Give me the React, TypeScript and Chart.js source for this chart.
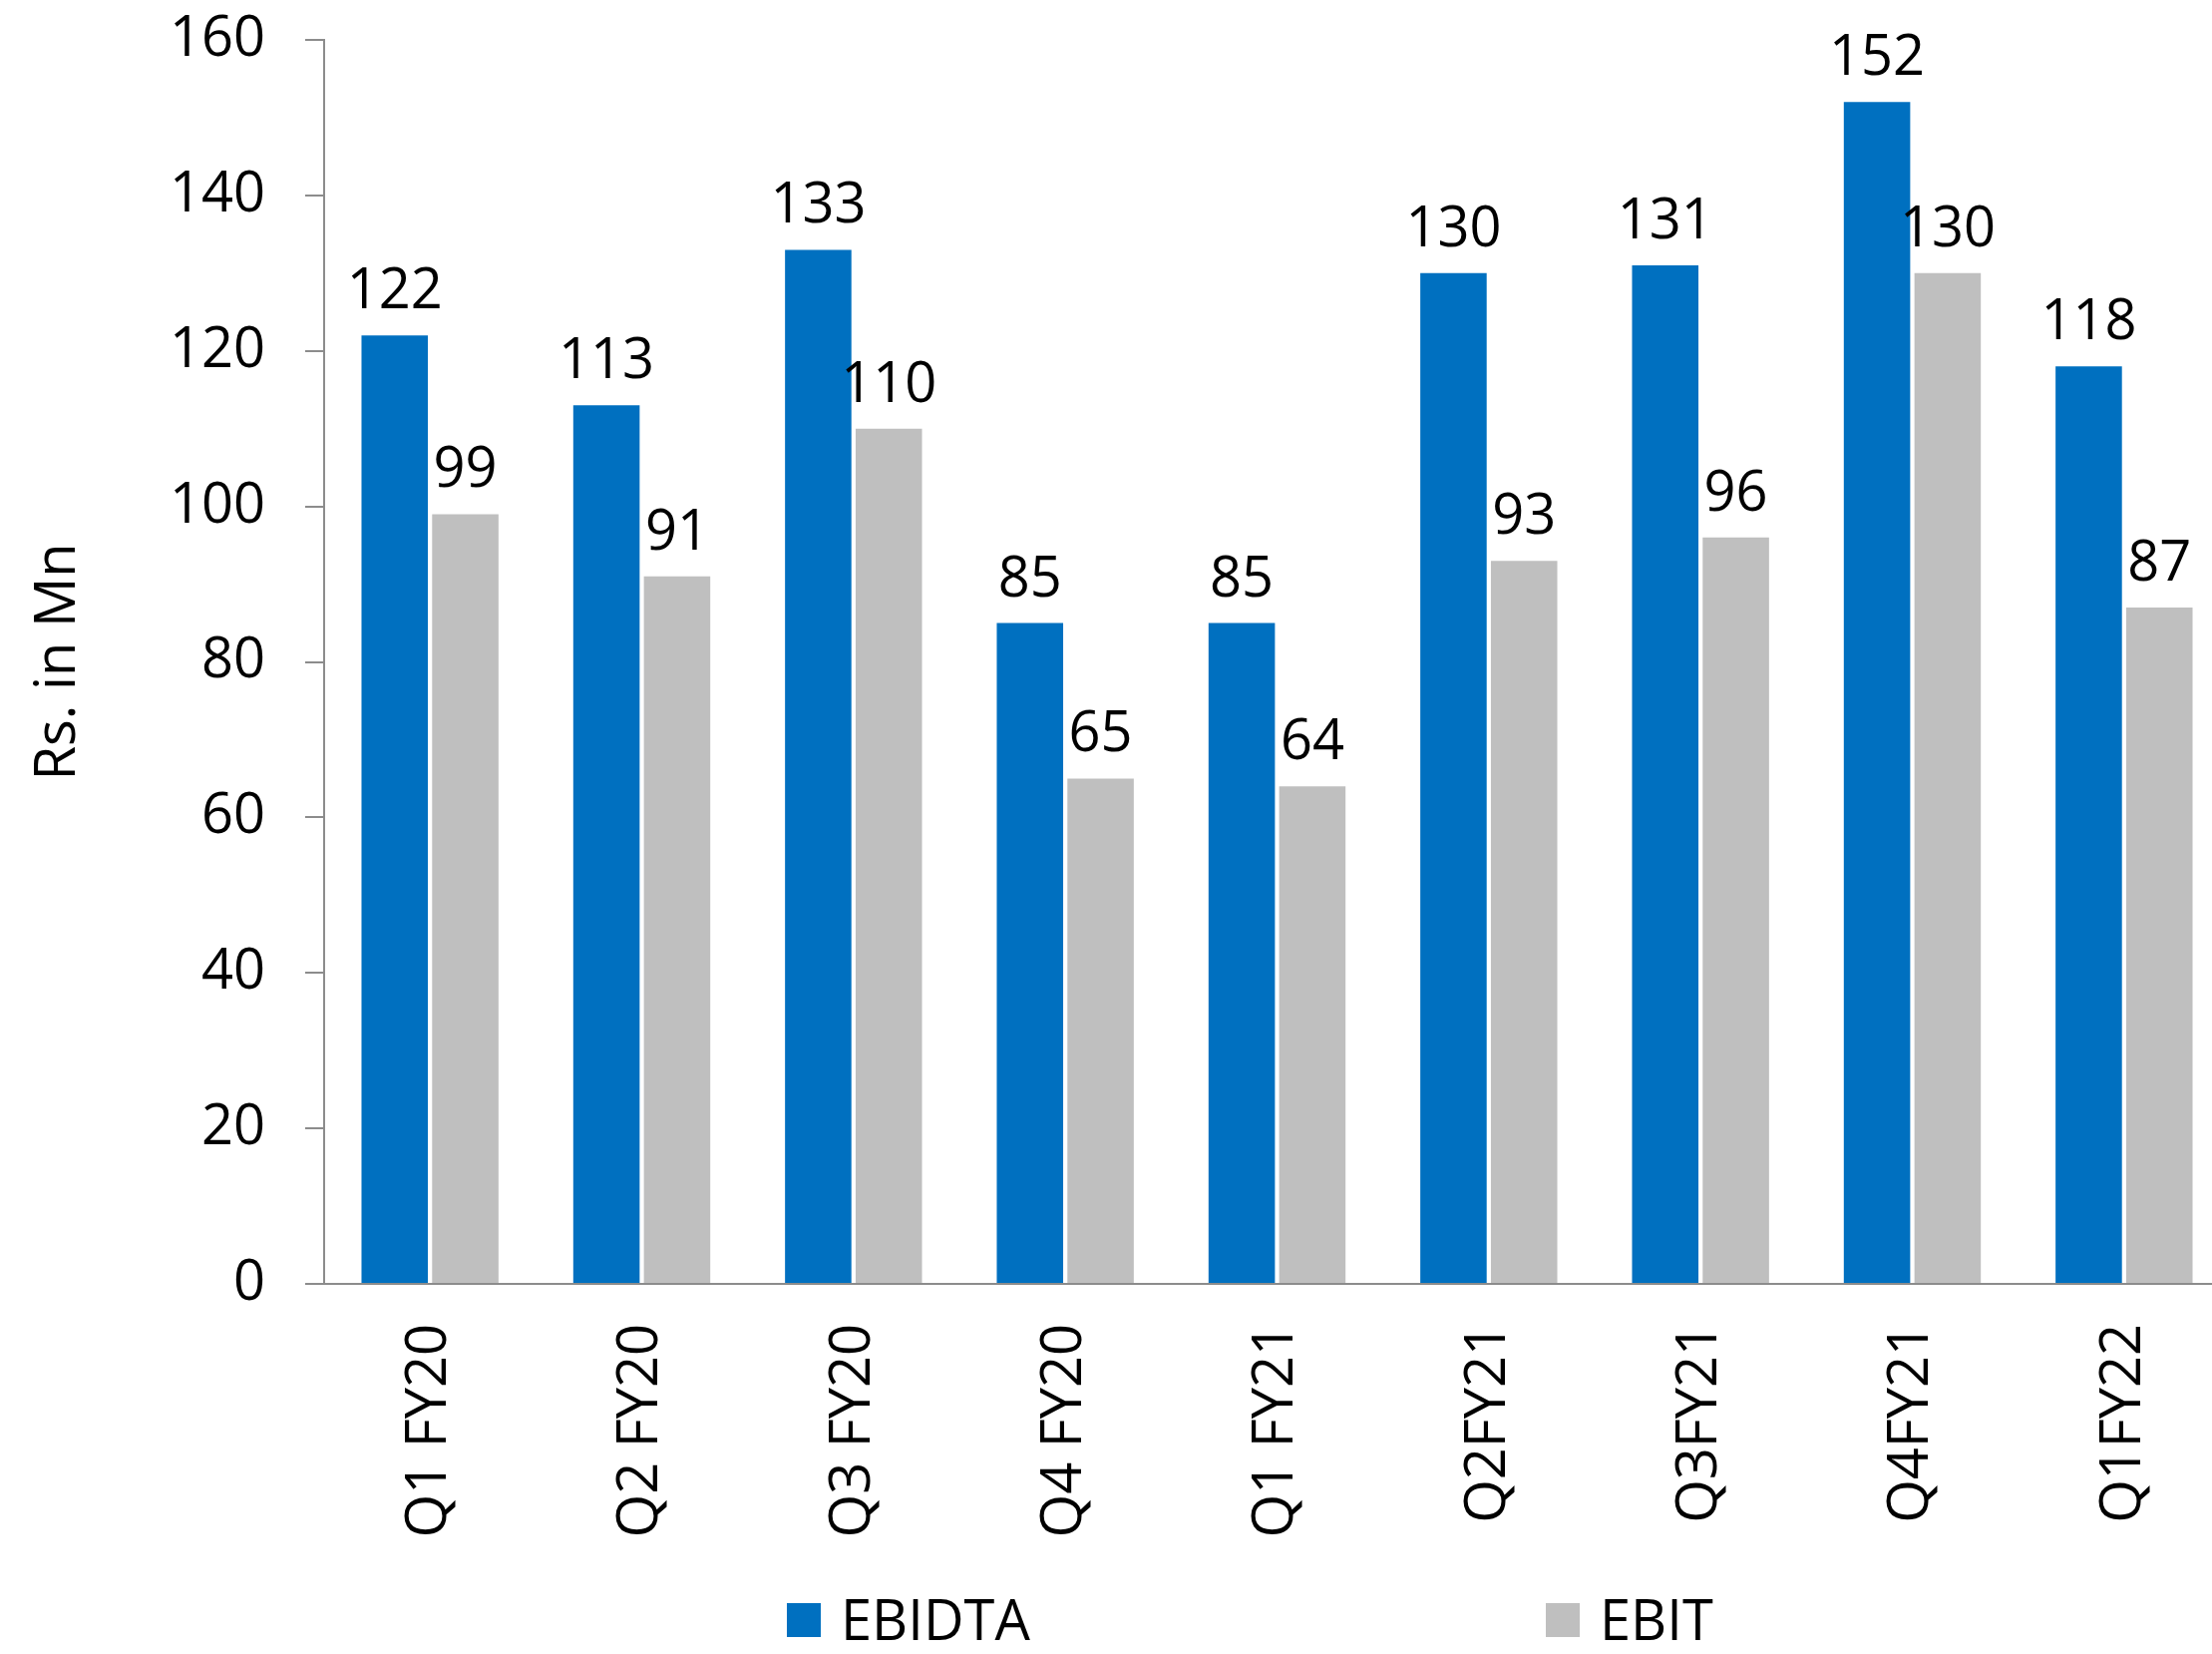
import React, { useEffect, useRef } from 'react';
import { Chart, registerables } from 'chart.js';

Chart.register(...registerables);

// ---- data ----
const categories = ['Q1 FY20', 'Q2 FY20', 'Q3 FY20', 'Q4 FY20', 'Q1 FY21', 'Q2FY21', 'Q3FY21', 'Q4FY21', 'Q1FY22'];
const ebidta = [122, 113, 133, 85, 85, 130, 131, 152, 118];
const ebit = [99, 91, 110, 65, 64, 93, 96, 130, 87];
const seriesNames = ['EBIDTA', 'EBIT'];
const yMin = 0;
const yMax = 160;
const yStep = 20;
const yTitle = 'Rs. in Mn';

// ---- style / layout ----
const W = 2218;
const H = 1658;
const CANVAS_W = 2236; // plot area runs slightly past the visible right edge, as in the source
const FONT = "'Open Sans', sans-serif";
const FS = 56;
const COLORS = ['#0070C0', '#BFBFBF'];
const AXIS = '#8C8C8C';
const LEGEND_X = [789, 1550];
const LEGEND_BOX_TOP = 1607;
const LEGEND_BOX = 34;
const LEGEND_BASELINE = 1644;

const valueLabels = {
  id: 'valueLabels',
  afterDatasetsDraw(chart: any) {
    const ctx = chart.ctx;
    ctx.save();
    ctx.font = `${FS}px ${FONT}`;
    ctx.fillStyle = '#000';
    ctx.textAlign = 'center';
    ctx.textBaseline = 'alphabetic';
    chart.data.datasets.forEach((ds: any, i: number) => {
      const meta = chart.getDatasetMeta(i);
      meta.data.forEach((bar: any, j: number) => {
        ctx.fillText(String(Math.round(ds.data[j])), bar.x, bar.y - 27);
      });
    });
    ctx.restore();
  },
};

const customLegend = {
  id: 'customLegend',
  afterDraw(chart: any) {
    const ctx = chart.ctx;
    ctx.save();
    ctx.font = `${FS}px ${FONT}`;
    ctx.textAlign = 'left';
    ctx.textBaseline = 'alphabetic';
    chart.data.datasets.forEach((ds: any, i: number) => {
      const x = LEGEND_X[i];
      ctx.fillStyle = ds.backgroundColor;
      ctx.fillRect(x, LEGEND_BOX_TOP, LEGEND_BOX, LEGEND_BOX);
      ctx.fillStyle = '#000';
      ctx.fillText(ds.label, x + LEGEND_BOX + 20, LEGEND_BASELINE);
    });
    ctx.restore();
  },
};

export default function App() {
  const ref = useRef<HTMLCanvasElement | null>(null);

  useEffect(() => {
    if (!ref.current) return;
    const chart = new Chart(ref.current, {
      type: 'bar',
      data: {
        labels: categories,
        datasets: [
          {
            label: seriesNames[0],
            data: ebidta,
            backgroundColor: COLORS[0],
            barPercentage: 0.94,
            categoryPercentage: 0.667,
          },
          {
            label: seriesNames[1],
            data: ebit,
            backgroundColor: COLORS[1],
            barPercentage: 0.94,
            categoryPercentage: 0.667,
          },
        ],
      },
      options: {
        responsive: false,
        animation: false,
        devicePixelRatio: 1,
        layout: { padding: { top: 40, bottom: 100, left: 0, right: 0 } },
        plugins: {
          legend: { display: false },
          tooltip: { enabled: false },
        },
        scales: {
          x: {
            grid: { display: false, drawTicks: false },
            border: { display: true, color: AXIS, width: 2 },
            ticks: {
              color: '#000',
              font: { family: FONT, size: FS },
              minRotation: 90,
              maxRotation: 90,
              autoSkip: false,
              padding: 40,
            },
            afterFit(s: any) {
              s.height = 271;
              s.paddingLeft = 0;
              s.paddingRight = 0;
            },
          },
          y: {
            min: yMin,
            max: yMax,
            ticks: {
              stepSize: yStep,
              color: '#000',
              font: { family: FONT, size: FS },
              padding: 40,
            },
            grid: {
              drawOnChartArea: false,
              drawTicks: true,
              tickLength: 19,
              color: AXIS,
              lineWidth: 2,
            },
            border: { color: AXIS, width: 2 },
            title: {
              display: true,
              text: yTitle,
              color: '#000',
              font: { family: FONT, size: FS },
              padding: { top: 25, bottom: 0 },
            },
            afterFit(s: any) {
              s.width = 325;
              s.paddingTop = 0;
              s.paddingBottom = 0;
            },
          },
        },
      } as any,
      plugins: [valueLabels, customLegend],
    });
    return () => chart.destroy();
  }, []);

  return (
    <div
      style={{
        position: 'fixed',
        left: 0,
        top: 0,
        width: W,
        height: H,
        overflow: 'hidden',
        background: '#fff',
      }}
    >
      <canvas
        ref={ref}
        width={CANVAS_W}
        height={H}
        style={{ width: CANVAS_W, height: H, display: 'block' }}
      />
    </div>
  );
}
